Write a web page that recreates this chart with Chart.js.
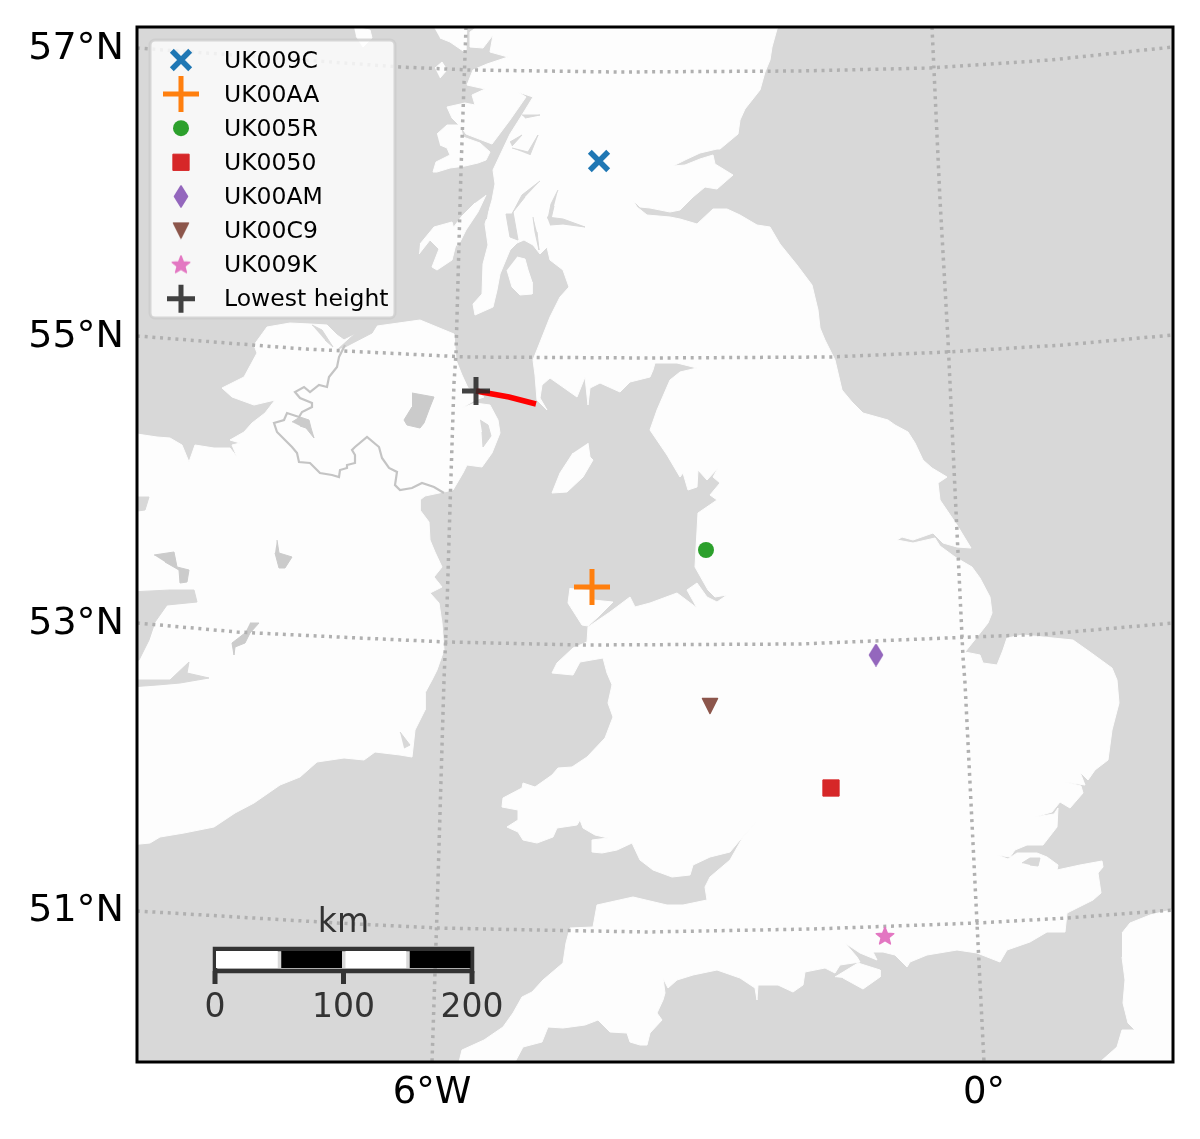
<!DOCTYPE html>
<html>
<head>
<meta charset="utf-8">
<style>
  html, body { margin: 0; padding: 0; background: #fff; }
  canvas { display: block; }
</style>
<script src="https://cdn.jsdelivr.net/npm/chart.js@4/dist/chart.umd.js"></script>
</head>
<body>
<canvas id="map" width="1200" height="1139"></canvas>
<script>
// everything on the map is in grid units, 257 units = 200 km
const xRange = [137, 1173];
const yRange = [27, 1062];

const latLabels = ['57°N', '55°N', '53°N', '51°N'];
const latTicks = [49, 337, 624, 911];
const lonLabels = ['6°W', '0°'];
const lonTicks = [432, 984];

const siteNames = ['UK009C', 'UK00AA', 'UK005R', 'UK0050', 'UK00AM', 'UK00C9', 'UK009K', 'Lowest height'];
const siteX = [599, 592, 706, 831, 876, 710, 885, 476];
const siteY = [161, 587, 550, 788, 655, 706, 936, 391];
const siteColors = ['#1f77b4', '#ff7f0e', '#2ca02c', '#d62728', '#9467bd', '#8c564b', '#e377c2', 'rgba(40,40,40,0.88)'];

const trackX = [476, 509, 536];
const trackY = [391, 397, 404];

const scaleKm = [0, 100, 200];
const scaleCells = [0, 50, 100, 150, 200];
const gridPerKm = 1.285;

const britain = [
  [777,20],[777,29],[772,47],[770,60],[765,72],[760,90],[745,109],[740,120],[738,134],[720,149],[717,149],[700,153],[685,160],[673,166],
  [685,165],[700,159],[713,155],[715,164],[733,175],[717,189],[705,187],[693,197],[680,210],[670,212],[650,208],[640,207],[633,200],[637,207],[647,215],
  [670,217],[680,219],[697,224],[713,209],[727,209],[740,215],[757,225],[770,227],[780,244],[797,265],[812,285],[818,310],[820,328],[825,340],[835,360],
  [842,390],[852,402],[863,413],[888,420],[895,425],[908,432],[915,443],[923,460],[932,468],[947,477],[938,483],[940,500],[957,525],[971,548],[957,547],
  [943,543],[933,533],[913,540],[902,537],[897,540],[913,543],[935,538],[940,546],[955,557],[972,567],[980,578],[990,597],[992,613],[988,623],[977,637],
  [965,652],[980,655],[983,663],[997,665],[1003,650],[1007,638],[1023,635],[1043,637],[1073,640],[1090,652],[1112,668],[1117,680],[1119,703],[1112,730],
  [1108,760],[1095,770],[1088,780],[1080,772],[1085,785],[1065,782],[1081,786],[1083,793],[1070,808],[1060,802],[1052,812],[1035,817],[1054,814],[1058,808],[1057,827],[1043,845],[1027,845],
  [1015,850],[1010,857],[997,855],[1008,859],[1017,853],[1037,853],[1047,857],[1058,865],[1057,870],[1080,865],[1102,861],[1103,867],[1098,873],[1101,893],
  [1093,900],[1067,913],[1065,932],[1047,932],[1030,942],[1007,950],[1000,962],[977,953],[957,950],[927,955],[910,962],[907,967],[895,955],[883,952],
  [873,952],[877,960],[860,953],[845,943],[857,957],[860,962],[840,965],[835,973],[825,968],[805,972],[803,985],[793,992],[778,985],[758,985],[757,1000],
  [755,988],[740,978],[717,970],[693,975],[677,980],[668,988],[663,978],[665,993],[663,1000],[657,1013],[662,1020],[650,1033],[647,1045],[640,1045],
  [630,1042],[627,1033],[610,1032],[598,1020],[585,1025],[563,1028],[548,1027],[542,1042],[523,1047],[515,1062],[515,1075],[455,1075],[459,1062],[462,1050],
  [484,1040],[503,1027],[513,1013],[522,997],[532,992],[543,980],[563,963],[566,943],[570,928],[593,927],[597,905],[633,897],[667,905],[683,905],[707,900],
  [705,887],[710,877],[730,860],[743,837],[758,820],[740,840],[730,852],[710,857],[693,865],[690,875],[672,877],[653,870],[640,860],[632,843],[617,850],
  [602,853],[592,852],[592,840],[608,838],[595,835],[583,828],[580,820],[577,825],[557,828],[553,837],[537,843],[523,840],[518,832],[507,827],[518,820],
  [518,810],[502,807],[503,798],[522,788],[523,783],[535,787],[552,775],[558,768],[572,767],[587,757],[605,738],[613,717],[608,703],[612,685],[613,687],
  [607,673],[603,658],[580,662],[573,675],[552,673],[557,663],[573,648],[587,642],[588,627],[610,612],[630,597],[635,607],[650,603],[677,593],[697,608],
  [687,590],[697,583],[707,597],[717,602],[727,595],[715,597],[708,590],[695,567],[698,513],[717,500],[710,495],[720,483],[713,477],[718,468],[707,480],
  [698,470],[697,487],[688,490],[683,473],[680,477],[667,455],[650,430],[657,410],[670,380],[680,372],[697,368],[677,363],[655,363],[653,370],[650,377],
  [630,382],[620,392],[600,383],[590,388],[588,405],[585,377],[577,397],[550,378],[542,385],[540,398],[547,410],[537,400],[535,375],[533,360],[550,317],
  [560,297],[569,287],[563,270],[550,260],[547,247],[540,254],[533,245],[524,240],[517,243],[510,250],[500,274],[497,290],[493,307],[475,315],[473,304],
  [482,294],[483,264],[488,245],[485,224],[492,200],[495,184],[493,170],[510,134],[522,115],[533,97],[518,92],[526,97],[510,120],[492,144],[466,134],[462,128],
  [452,118],[447,107],[465,103],[475,105],[472,95],[485,89],[467,85],[473,70],[487,64],[508,57],[490,52],[493,35],[483,48],[470,47],[470,32],[477,27],[477,20]
];

const ireland = [
  [130,433],[157,437],[170,438],[182,445],[189,462],[195,445],[214,448],[230,448],[237,457],[232,445],[240,443],[230,440],[244,432],[252,423],[265,413],[275,400],
  [254,405],[232,397],[222,388],[244,377],[257,353],[254,345],[267,327],[290,323],[310,324],[327,325],[337,335],[344,340],[370,327],[420,320],[454,334],
  [455,347],[456,360],[462,375],[468,388],[484,397],[475,400],[462,408],[475,403],[490,405],[498,420],[500,433],[492,453],[482,467],[467,465],[463,473],[453,490],
  [444,492],[425,496],[420,500],[420,510],[429,522],[430,540],[435,552],[442,567],[434,577],[442,587],[430,593],[439,603],[442,623],[444,650],[437,670],
  [432,680],[425,693],[425,710],[415,730],[412,757],[400,755],[375,752],[364,760],[344,758],[317,762],[300,777],[280,785],[254,803],[235,813],[214,827],
  [184,833],[160,837],[150,843],[130,845]
];

const smallIslands = [
  [[430,20],[467,20],[466,53],[450,42],[440,38]], // Skye
  [[354,27],[370,30],[372,38],[363,47],[356,36]], // Rum
  [[435,68],[442,62],[447,70],[440,78]],          // Eigg
  [[437,134],[447,125],[460,125],[463,137],[480,143],[490,152],[486,160],[478,163],[465,166],[450,168],[437,172],[433,172],[436,162],[450,155],[447,148],[440,145]], // Mull
  [[486,195],[478,212],[466,230],[458,246],[453,243],[453,228],[462,216],[475,203]], // Jura
  [[420,244],[434,227],[452,222],[457,240],[452,260],[437,270],[432,267],[439,249],[430,240],[419,254]], // Islay
  [[517,257],[525,259],[528,270],[532,282],[532,294],[520,295],[512,287],[507,270]], // Arran
  [[588,443],[590,457],[593,460],[583,477],[567,492],[552,493],[560,473],[573,453]], // Man
  [[570,588],[568,603],[582,625],[588,626],[598,617],[613,602],[593,600],[592,590]], // Anglesey
  [[835,977],[858,963],[880,970],[880,977],[863,989],[843,978]], // Wight
  [[1122,933],[1130,923],[1150,915],[1180,908],[1180,1075],[1095,1075],[1100,1062],[1117,1047],[1122,1030],[1135,1030],[1128,1023],[1123,1003],[1125,980],[1122,957]] // France
];

const loughs = [
  [[412,393],[434,397],[430,407],[424,423],[420,428],[407,425],[404,420],[412,407]], // Neagh
  [[292,422],[300,417],[309,420],[311,428],[314,438],[306,428],[300,426]],           // Erne
  [[277,540],[279,553],[292,557],[285,568],[279,568],[275,553]],                     // Ree
  [[154,555],[174,552],[177,567],[189,570],[187,582],[180,583],[179,570],[165,562]], // Corrib
  [[250,623],[259,623],[250,633],[245,643],[235,647],[234,655],[232,643],[245,633]]  // Derg
];

const seaInlets = [
  [[130,592],[170,590],[194,590],[197,602],[167,605],[155,622],[149,640],[139,660],[130,660]], // Galway Bay
  [[130,680],[170,680],[189,662],[187,673],[209,678],[180,683],[157,685],[130,687]], // Shannon
  [[130,497],[149,497],[145,510],[130,512]],
  [[337,350],[358,331],[380,320],[372,333],[345,347]],                                // Foyle
  [[312,325],[322,330],[333,347],[325,340]],                                          // Swilly
  [[480,420],[488,425],[491,436],[483,447],[482,432]],                                // Strangford
  [[400,732],[410,745],[404,748]],
  [[540,181],[522,195],[512,214],[506,214],[510,237],[518,240],[513,212],[525,197]],  // Fyne
  [[558,190],[551,204],[548,219],[551,219],[554,206]],                                // Long
  [[547,217],[563,219],[585,227],[563,224],[550,225]],                                // Clyde
  [[533,217],[535,232],[539,250],[537,232]],
  [[522,115],[540,115],[525,118]],
  [[510,142],[522,135],[512,146]],
  [[512,148],[528,152],[538,135],[530,155]],
  [[490,200],[483,222],[487,218]],
  [[1022,863],[1030,858],[1040,858],[1038,866],[1030,865]],                            // Sheppey
  [[577,825],[583,832],[590,838],[580,832]]
];

const irishBorder = [
  [345,345],[339,357],[337,367],[329,377],[327,387],[319,385],[310,392],[304,387],[295,392],[300,398],[312,403],[312,407],[302,412],[299,417],[287,413],
  [284,420],[274,423],[277,432],[292,447],[297,453],[299,462],[310,463],[320,473],[332,475],[339,477],[340,470],[347,468],[347,465],[355,463],[355,455],
  [352,450],[355,447],[367,437],[379,447],[382,458],[389,468],[397,472],[395,485],[400,490],[412,488],[422,483],[434,487],[444,493]
];

const parallels = [
  [[137,48],[400,67],[470,70],[617,72],[800,71],[930,68],[1050,60],[1173,47]],
  [[137,336],[304,349],[467,357],[650,358],[830,357],[947,352],[1063,345],[1173,335]],
  [[137,623],[237,632],[337,637],[447,642],[583,645],[800,644],[947,638],[1047,634],[1173,623]],
  [[137,911],[337,923],[437,928],[537,930],[647,932],[813,929],[977,923],[1067,918],[1173,910]]
];
const meridians = [
  [[466,27],[461,170],[456,354],[454,383],[450,507],[447,607],[444,680],[437,913],[432,1062]],
  [[932,27],[940,200],[948,340],[955,490],[963,657],[965,683],[977,923],[984,1062]]
];

const LAND = '#fdfdfd';
const SEA = '#d8d8d8';
const LAKE = '#cbcbcb';
const DARK = '#333333';

// pointStyle images for the shapes Chart.js has no built-in for
function markerImage(w, h, color, draw) {
  const c = document.createElement('canvas');
  c.width = w; c.height = h;
  const g = c.getContext('2d');
  g.fillStyle = color;
  g.strokeStyle = color;
  g.lineJoin = 'round';
  g.lineWidth = 1.5;
  g.beginPath();
  draw(g);
  g.closePath();
  g.fill();
  g.stroke();
  return c;
}
const thinDiamond = markerImage(16, 23, siteColors[4], g => {
  g.moveTo(8, 1); g.lineTo(14.5, 11.5); g.lineTo(8, 22); g.lineTo(1.5, 11.5);
});
const triangleDown = markerImage(18, 18, siteColors[5], g => {
  g.moveTo(1.5, 1.5); g.lineTo(16.5, 1.5); g.lineTo(9, 16.5);
});
const fiveStar = markerImage(20, 20, siteColors[6], g => {
  for (let i = 0; i < 10; i++) {
    const r = i % 2 ? 4 : 9.2;
    const a = -Math.PI / 2 + i * Math.PI / 5;
    g.lineTo(10 + r * Math.cos(a), 10.5 + r * Math.sin(a));
  }
});

const siteStyles = [
  { pointStyle: 'crossRot', radius: 13, borderWidth: 5.5 },
  { pointStyle: 'cross', radius: 18, borderWidth: 5 },
  { pointStyle: 'circle', radius: 8, borderWidth: 0 },
  { pointStyle: 'rect', radius: 11.5, borderWidth: 1 },
  { pointStyle: thinDiamond, radius: 11, borderWidth: 0 },
  { pointStyle: triangleDown, radius: 9, borderWidth: 0 },
  { pointStyle: fiveStar, radius: 10, borderWidth: 0 },
  { pointStyle: 'cross', radius: 14, borderWidth: 5 }
];

const toPoints = pairs => pairs.map(p => ({ x: p[0], y: p[1] }));

const datasets = [];
function addOutline(pairs, color, order) {
  datasets.push({ data: toPoints(pairs), polygon: color, showLine: true, borderColor: color, borderWidth: 1, pointRadius: 0, order });
}
function addLine(pairs, color, width, order, dash) {
  datasets.push({ data: toPoints(pairs), showLine: true, borderColor: color, borderWidth: width, borderDash: dash || [], pointRadius: 0, order });
}

addOutline(britain, LAND, 100);
addOutline(ireland, LAND, 100);
smallIslands.forEach(s => addOutline(s, LAND, 99));
loughs.forEach(w => addOutline(w, LAKE, 98));
seaInlets.forEach(w => addOutline(w, SEA, 98));
addLine(irishBorder, '#c4c4c4', 2.2, 97);
parallels.concat(meridians).forEach(g => addLine(g, '#b0b0b0', 3.5, 96, [3, 4.7]));

// scale bar
const barLeft = 215, barTop = 949, barBottom = 971, barMid = 959.5;
const barX = km => barLeft + km * gridPerKm;
addLine([[barX(0), barBottom], [barX(0), barTop], [barX(200), barTop], [barX(200), barBottom], [barX(0), barBottom]], DARK, 4.5, 95);
for (let i = 0; i < scaleCells.length - 1; i++) {
  const a = barX(scaleCells[i]) + (i ? 2 : 1), b = barX(scaleCells[i + 1]) - 1.5;
  addLine([[a, barMid], [b, barMid]], i % 2 ? '#000000' : '#ffffff', 17, 94);
}
scaleKm.forEach(km => addLine([[barX(km), barBottom], [barX(km), 984]], DARK, 5, 94));

addLine(trackX.map((x, i) => [x, trackY[i]]), '#ff0000', 5.5, 20);

// sites, each its own dataset so the legend can pick up the marker
siteNames.forEach((name, i) => {
  const s = siteStyles[i];
  datasets.push({
    label: name,
    data: [{ x: siteX[i], y: siteY[i] }],
    showLine: false,
    pointStyle: s.pointStyle,
    pointRadius: s.radius,
    pointBorderWidth: s.borderWidth,
    pointBackgroundColor: siteColors[i],
    pointBorderColor: siteColors[i],
    order: 10 - i
  });
});

const mapDecor = {
  id: 'mapDecor',
  beforeDraw(chart) {
    const { ctx, chartArea: a } = chart;
    ctx.save();
    ctx.fillStyle = SEA;
    ctx.fillRect(a.left, a.top, a.width, a.height);
    ctx.restore();
  },
  // Chart.js line fill only goes to a baseline, so close the polygons here
  beforeDatasetDraw(chart, args) {
    const color = chart.data.datasets[args.index].polygon;
    if (!color) return;
    const { ctx, chartArea: a } = chart;
    ctx.save();
    ctx.beginPath();
    ctx.rect(a.left, a.top, a.width, a.height);
    ctx.clip();
    ctx.beginPath();
    args.meta.data.forEach((pt, i) => (i ? ctx.lineTo(pt.x, pt.y) : ctx.moveTo(pt.x, pt.y)));
    ctx.closePath();
    ctx.fillStyle = color;
    ctx.fill();
    ctx.restore();
  },
  afterDatasetsDraw(chart) {
    const { ctx, chartArea: a, scales } = chart;
    const px = v => scales.x.getPixelForValue(v);
    const py = v => scales.y.getPixelForValue(v);

    // scale bar text
    ctx.save();
    ctx.fillStyle = DARK;
    ctx.textAlign = 'center';
    ctx.textBaseline = 'middle';
    ctx.font = '33px "DejaVu Sans"';
    ctx.fillText('km', px(barX(100)), py(923));
    scaleKm.forEach(km => ctx.fillText(String(km), px(barX(km)), py(1008)));
    ctx.restore();

    // legend box
    ctx.save();
    ctx.beginPath();
    ctx.roundRect(px(150), py(40), px(395) - px(150), py(318) - py(40), 5);
    ctx.fillStyle = 'rgba(255,255,255,0.8)';
    ctx.fill();
    ctx.lineWidth = 3;
    ctx.strokeStyle = 'rgba(204,204,204,0.8)';
    ctx.stroke();
    ctx.font = '23.5px "DejaVu Sans"';
    ctx.textAlign = 'left';
    ctx.textBaseline = 'middle';
    siteNames.forEach((name, i) => {
      const y = py(60 + i * 34.1);
      const s = siteStyles[i];
      ctx.save();
      ctx.fillStyle = siteColors[i];
      ctx.strokeStyle = siteColors[i];
      ctx.lineWidth = s.borderWidth;
      Chart.helpers.drawPoint(ctx, { pointStyle: s.pointStyle, radius: s.radius, rotation: 0, borderWidth: s.borderWidth }, px(181), y);
      ctx.restore();
      ctx.fillStyle = '#000';
      ctx.fillText(name, px(224), y + 1.5);
    });
    ctx.restore();

    // frame
    ctx.save();
    ctx.strokeStyle = '#000';
    ctx.lineWidth = 3;
    ctx.strokeRect(a.left, a.top, a.width, a.height);
    ctx.restore();
  }
};

new Chart(document.getElementById('map'), {
  type: 'scatter',
  data: { datasets },
  plugins: [mapDecor],
  options: {
    responsive: false,
    animation: false,
    events: [],
    layout: { padding: { left: 0, top: 27, right: 27, bottom: 0 } },
    plugins: { legend: { display: false }, tooltip: { enabled: false } },
    scales: {
      x: {
        type: 'linear',
        min: xRange[0],
        max: xRange[1],
        grid: { display: false },
        border: { display: false },
        afterFit: s => { s.height = 77; s.paddingLeft = 0; s.paddingRight = 0; },
        afterBuildTicks: s => { s.ticks = lonTicks.map(value => ({ value })); },
        ticks: {
          autoSkip: false,
          maxRotation: 0,
          padding: 1,
          color: '#000',
          font: { family: 'DejaVu Sans', size: 37 },
          callback: v => lonLabels[lonTicks.indexOf(v)]
        }
      },
      y: {
        type: 'linear',
        reverse: true,
        min: yRange[0],
        max: yRange[1],
        grid: { display: false },
        border: { display: false },
        afterFit: s => { s.width = 137; s.paddingTop = 0; s.paddingBottom = 0; },
        afterBuildTicks: s => { s.ticks = latTicks.map(value => ({ value })); },
        ticks: {
          autoSkip: false,
          padding: 5,
          color: '#000',
          font: { family: 'DejaVu Sans', size: 38 },
          callback: v => latLabels[latTicks.indexOf(v)]
        }
      }
    }
  }
});
</script>
</body>
</html>
